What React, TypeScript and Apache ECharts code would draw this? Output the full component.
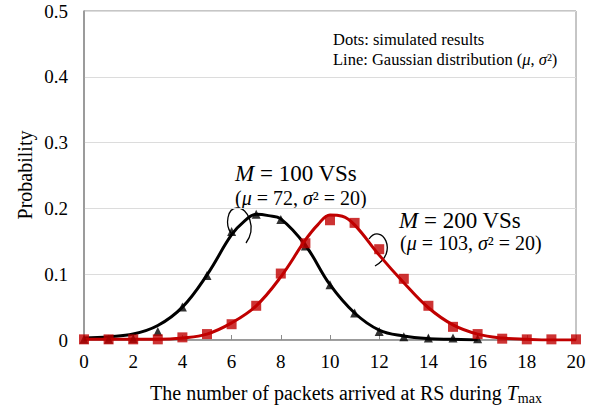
import React, { useEffect, useRef } from "react";
import * as echarts from "echarts";

// Simulated results (dots)
const dotX = [0, 1, 2, 3, 4, 5, 6, 7, 8, 9, 10, 11, 12, 13, 14, 15, 16, 17, 18, 19, 20];
const dotsM100 = [0.001, 0.001, 0.002, 0.013, 0.05, 0.098, 0.165, 0.191, 0.183, 0.143, 0.084, 0.041, 0.013, 0.005, 0.003, 0.003, 0.002];
const dotsM200 = [0.001, 0.001, 0.001, 0.001, 0.004, 0.009, 0.024, 0.052, 0.101, 0.147, 0.182, 0.178, 0.138, 0.093, 0.052, 0.02, 0.009, 0.002, 0.001, 0.001, 0.001];

// Gaussian lines
const lineX100 = [0, 1, 2, 3, 4, 5, 6, 6.5, 7, 7.5, 8, 9, 10, 11, 12, 13, 14, 15, 16];
const lineM100 = [0.003, 0.005, 0.009, 0.022, 0.05, 0.099, 0.16, 0.18, 0.191, 0.189, 0.184, 0.144, 0.084, 0.041, 0.015, 0.006, 0.002, 0.001, 0.0];
const lineX200 = [0, 1, 2, 3, 4, 5, 6, 7, 8, 9, 9.5, 10, 10.5, 11, 12, 13, 14, 15, 16, 17, 18, 19, 20];
const lineM200 = [0.001, 0.001, 0.001, 0.001, 0.003, 0.009, 0.026, 0.052, 0.096, 0.152, 0.175, 0.19, 0.188, 0.175, 0.129, 0.087, 0.049, 0.023, 0.009, 0.003, 0.001, 0.0, 0.0];

const xTicks = { min: 0, max: 20, interval: 2 };
const yTicks = { min: 0, max: 0.5, interval: 0.1 };

const RED = "#C00000";
const FONT = "'Liberation Serif', serif";

const pairs = (xs: number[], ys: number[]) => ys.map((y, i) => [xs[i], y]);

const rt = (size: number) => ({
  n: { fontFamily: FONT, fontSize: size, fill: "#000" },
  i: { fontFamily: FONT, fontSize: size, fontStyle: "italic", fill: "#000" },
});

export default function App() {
  const ref = useRef<HTMLDivElement>(null);
  useEffect(() => {
    document.body.style.margin = "0";
    const chart = echarts.init(ref.current!, null, { renderer: "svg" });
    chart.setOption({
      animation: false,
      grid: {
        left: 84, right: 24, top: 11, bottom: 72,
        show: true, borderColor: "#8c8c8c", borderWidth: 1,
      },
      xAxis: {
        type: "value", ...xTicks,
        axisLine: { lineStyle: { color: "#8c8c8c", width: 1.5 } },
        axisTick: { inside: true, length: 5, lineStyle: { color: "#8c8c8c" } },
        axisLabel: { fontFamily: FONT, fontSize: 19, color: "#000", margin: 12 },
        splitLine: { show: false },
      },
      yAxis: {
        type: "value", ...yTicks,
        axisLine: { show: true, lineStyle: { color: "#8c8c8c", width: 1.5 } },
        axisTick: { show: false },
        axisLabel: { fontFamily: FONT, fontSize: 19, color: "#000", margin: 16 },
        splitLine: { lineStyle: { color: "#dcdcdc" } },
      },
      series: [
        {
          type: "line", data: pairs(lineX100, lineM100), smooth: 0.4, symbol: "none",
          lineStyle: { color: "#000", width: 3 }, z: 2,
        },
        {
          type: "line", data: pairs(lineX200, lineM200), smooth: 0.4, symbol: "none",
          lineStyle: { color: RED, width: 3 }, z: 3,
        },
        {
          type: "scatter", data: pairs(dotX, dotsM100), symbol: "triangle", symbolSize: 9,
          itemStyle: { color: "#000" }, z: 4,
        },
        {
          type: "scatter", data: pairs(dotX, dotsM200), symbol: "rect", symbolSize: 10,
          itemStyle: { color: RED }, z: 5,
        },
      ],
      graphic: [
        {
          type: "text", x: 25, y: 175, rotation: Math.PI / 2,
          style: { text: "Probability", fontFamily: FONT, fontSize: 20, fill: "#000", align: "center", verticalAlign: "middle" },
        },
        {
          type: "text", x: 346, y: 393,
          style: {
            text: "{n|The number of packets arrived at RS during }{i|T}{s|max}",
            fontFamily: FONT, fontSize: 20, fill: "#000", align: "center", verticalAlign: "middle",
            rich: {
              n: { fontFamily: FONT, fontSize: 20, lineHeight: 24, fill: "#000" },
              i: { fontFamily: FONT, fontStyle: "italic", fontSize: 20, lineHeight: 24, fill: "#000" },
              s: { fontFamily: FONT, fontSize: 14, lineHeight: 14, verticalAlign: "bottom", fill: "#000" },
            },
          },
        },
        {
          type: "text", x: 333, y: 39,
          style: {
            text: "{n|Dots: simulated results}",
            fontFamily: FONT, fontSize: 16.5, fill: "#000", verticalAlign: "middle", rich: rt(16.5),
          },
        },
        {
          type: "text", x: 333, y: 59,
          style: {
            text: "{n|Line: Gaussian distribution (}{i|μ}{n|, }{i|σ}{n|²)}",
            fontFamily: FONT, fontSize: 16.5, fill: "#000", verticalAlign: "middle", rich: rt(16.5),
          },
        },
        {
          type: "text", x: 235, y: 173,
          style: {
            text: "{i|M}{n| = 100 VSs}", fontFamily: FONT, fontSize: 23, fill: "#000", verticalAlign: "middle",
            rich: rt(23),
          },
        },
        {
          type: "text", x: 235, y: 198,
          style: {
            text: "{n|(}{i|μ}{n| = 72, }{i|σ}{n|² = 20)}", fontFamily: FONT, fontSize: 20, fill: "#000", verticalAlign: "middle",
            rich: rt(20),
          },
        },
        {
          type: "text", x: 399, y: 220,
          style: {
            text: "{i|M}{n| = 200 VSs}", fontFamily: FONT, fontSize: 23, fill: "#000", verticalAlign: "middle",
            rich: rt(23),
          },
        },
        {
          type: "text", x: 400, y: 243,
          style: {
            text: "{n|(}{i|μ}{n| = 103, }{i|σ}{n|² = 20)}", fontFamily: FONT, fontSize: 20, fill: "#000", verticalAlign: "middle",
            rich: rt(20),
          },
        },
        {
          type: "bezierCurve",
          shape: { x1: 231, y1: 233, cpx1: 225, cpy1: 225, cpx2: 227, cpy2: 208, x2: 237, y2: 208 },
          style: { stroke: "#000", lineWidth: 1.3, fill: null },
        },
        {
          type: "bezierCurve",
          shape: { x1: 237, y1: 208, cpx1: 248, cpy1: 207, cpx2: 257, cpy2: 228, x2: 246, y2: 243 },
          style: { stroke: "#000", lineWidth: 1.3, fill: null },
        },
        {
          type: "bezierCurve",
          shape: { x1: 369, y1: 239, cpx1: 381, cpy1: 222, cpx2: 400, cpy2: 252, x2: 375, y2: 266 },
          style: { stroke: "#000", lineWidth: 1.3, fill: null },
        },
      ],
    });
    return () => chart.dispose();
  }, []);
  return <div ref={ref} style={{ width: 600, height: 412 }} />;
}
